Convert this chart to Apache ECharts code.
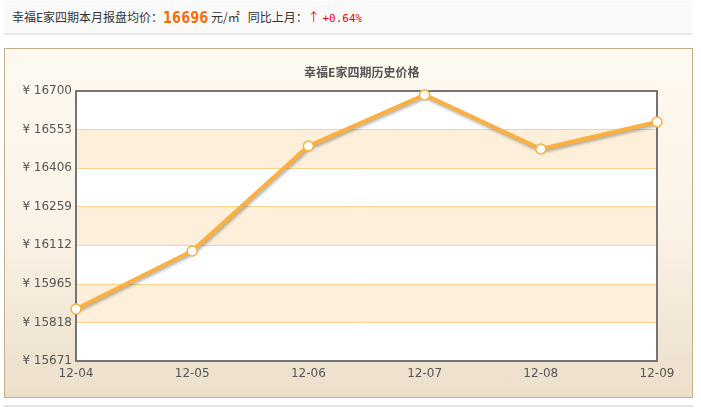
<!DOCTYPE html>
<html><head><meta charset="utf-8">
<script src="https://cdn.jsdelivr.net/npm/echarts@6/dist/echarts.min.js"></script>
<style>
html,body{margin:0;padding:0;background:#fff;width:701px;height:409px;overflow:hidden;font-family:"Noto Sans CJK SC","DejaVu Sans",sans-serif;}
#top{position:absolute;left:4px;top:1px;width:688px;height:32px;background:#fafafa;border-bottom:2px solid #e8e8e8;font-size:12px;color:#333;line-height:32px;white-space:nowrap;}
#top .t{position:absolute;left:8px;top:0;}
#top .num{color:#ff6a00;font-weight:bold;font-size:15px;font-family:"DejaVu Sans Mono",monospace;vertical-align:-1px;}
#top .red{color:#ff0000;}
#top .pct{color:#ff0000;font-size:11px;font-family:"DejaVu Sans Mono",monospace;}
#panel{position:absolute;left:4px;top:48px;width:687px;height:348px;border:1px solid #c6ae88;background:linear-gradient(to bottom,#fef9f0 0%,#fbf3e7 50%,#ecdfca 100%);}
#foot{position:absolute;left:4px;top:405px;width:689px;height:2px;background:#e2e2e2;}
#chart{position:absolute;left:0;top:0;width:701px;height:409px;}
</style></head>
<body>
<div id="top"><span class="t">幸福E家四期本月报盘均价：<span class="num">16696</span>&nbsp;元/㎡&nbsp;&nbsp;&nbsp;同比上月：<span class="red">↑</span>&nbsp;<span class="pct">+0.64%</span></span></div>
<div id="panel"></div>
<div id="foot"></div>
<div id="chart"></div>
<script>
var categories = ['12-04','12-05','12-06','12-07','12-08','12-09'];
var prices = [15869, 16090, 16490, 16685, 16479, 16582];
var yMin = 15671;
var yMax = 16700;
var yStep = 147;
var chartTitle = '幸福E家四期历史价格';

var chart = echarts.init(document.getElementById('chart'), null, {renderer:'canvas'});
var lineColor = '#fbb03f';
var frame = { show: true, onZero: false, lineStyle: { color: '#747474', width: 2 } };
chart.setOption({
  backgroundColor: 'transparent',
  animation: false,
  graphic: [{
    type: 'text', left: 366 - 62, top: 66,
    style: { text: chartTitle, font: 'bold 12px "Noto Sans CJK SC", sans-serif', fill: '#555' }
  }],
  grid: { left: 76, top: 91, width: 581, height: 270, show: true, backgroundColor: '#fff', borderWidth: 0, containLabel: false },
  xAxis: [{
    type: 'category', data: categories, boundaryGap: false, position: 'bottom',
    axisLine: frame, axisTick: { show: false },
    axisLabel: { color: '#555', fontSize: 12, fontFamily: 'DejaVu Sans', margin: 7 },
    splitLine: { show: false }, z: 6
  }, {
    type: 'category', data: categories, boundaryGap: false, position: 'top',
    axisLine: frame, axisTick: { show: false }, axisLabel: { show: false }, splitLine: { show: false }, z: 6
  }],
  yAxis: [{
    type: 'value', min: 0, max: yMax - yMin, interval: yStep, position: 'left',
    axisLine: frame, axisTick: { show: false },
    axisLabel: { color: '#555', fontSize: 12, fontFamily: 'DejaVu Sans', margin: 4,
      formatter: function (v) { return '¥ ' + (v + yMin); } },
    splitLine: { show: true, lineStyle: { color: '#fdd28c', width: 1 } },
    splitArea: { show: true, areaStyle: { color: ['#ffffff', '#fdefd9'] } }, z: 6
  }, {
    type: 'value', min: 0, max: yMax - yMin, interval: yStep, position: 'right',
    axisLine: frame, axisTick: { show: false }, axisLabel: { show: false },
    splitLine: { show: false }, splitArea: { show: false }, z: 6
  }],
  series: [{
    type: 'line',
    data: prices.map(function (p) { return p - yMin; }),
    lineStyle: { color: lineColor, width: 4, shadowColor: 'rgba(0,0,0,0.3)', shadowBlur: 3, shadowOffsetX: 1, shadowOffsetY: 2 },
    symbol: 'circle', symbolSize: 10, showSymbol: true,
    itemStyle: { color: '#fff', borderColor: lineColor, borderWidth: 1.5 },
    clip: false, z: 8
  }]
});
</script>
</body></html>
